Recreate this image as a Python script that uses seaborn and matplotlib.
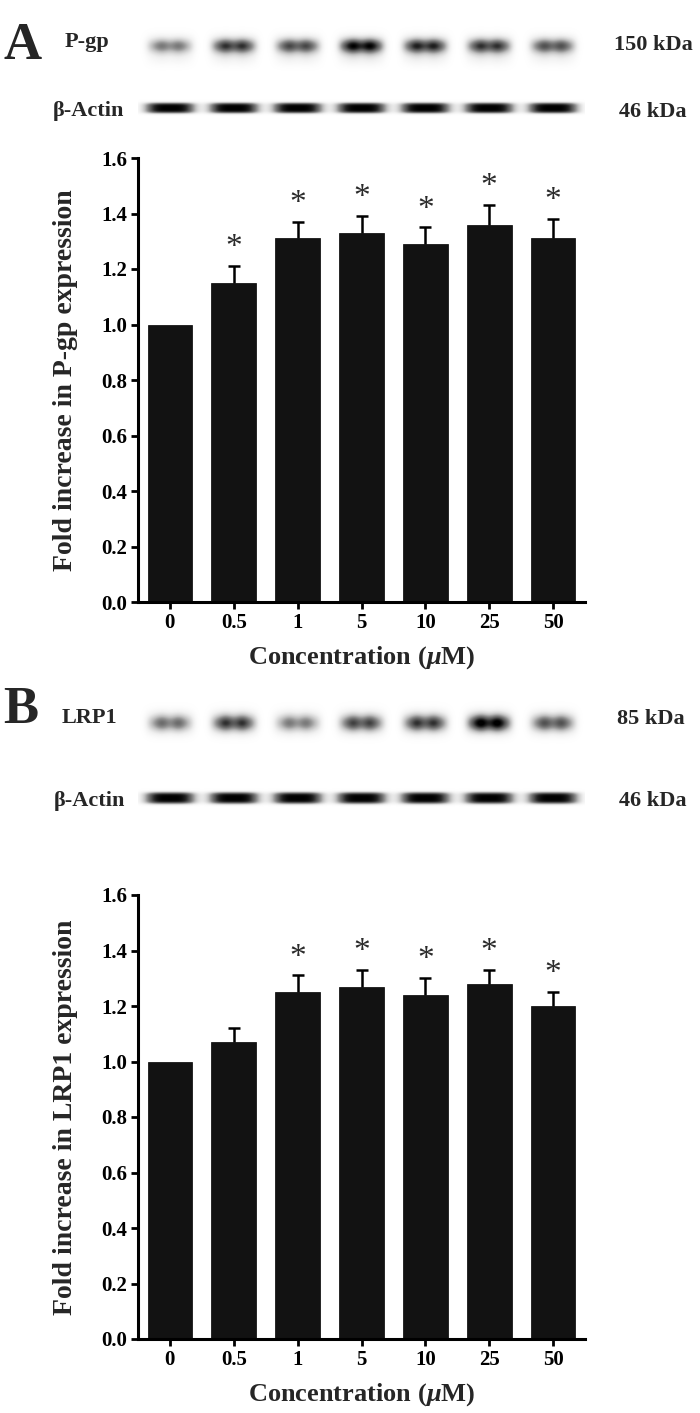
import pandas as pd
import numpy as np
import matplotlib
matplotlib.use("Agg")
import matplotlib.pyplot as plt
import seaborn as sns

# data
conc = ['0', '0.5', '1', '5', '10', '25', '50']

pgp_mean = [1.00, 1.15, 1.31, 1.33, 1.29, 1.36, 1.31]
pgp_err = [0.00, 0.06, 0.06, 0.06, 0.06, 0.07, 0.07]
pgp_star = [False, True, True, True, True, True, True]

lrp1_mean = [1.00, 1.07, 1.25, 1.27, 1.24, 1.28, 1.20]
lrp1_err = [0.00, 0.05, 0.06, 0.06, 0.06, 0.05, 0.05]
lrp1_star = [False, False, True, True, True, True, True]

# relative band darkness per lane (western blot strips)
pgp_band = [0.60, 0.85, 0.78, 1.00, 0.90, 0.85, 0.75]
actin_a_band = [1.0, 1.0, 1.0, 1.0, 1.0, 1.0, 1.0]
lrp1_band = [0.65, 0.85, 0.60, 0.80, 0.85, 1.05, 0.75]
actin_b_band = [1.0, 1.0, 1.0, 1.0, 1.0, 1.0, 1.0]

sns.set_style("ticks")
plt.rcParams['font.family'] = ['Liberation Serif', 'DejaVu Serif']
plt.rcParams['font.weight'] = 'bold'
plt.rcParams['axes.labelweight'] = 'bold'
plt.rcParams['mathtext.fontset'] = 'custom'
plt.rcParams['mathtext.it'] = 'Liberation Serif:italic:bold'
plt.rcParams['mathtext.rm'] = 'Liberation Serif:bold'

W, H = 700, 1413
fig = plt.figure(figsize=(7, 14.13), dpi=100)
BAR = '#121212'


def px_axes(left, top, width, height):
    return fig.add_axes([left / W, 1 - (top + height) / H, width / W, height / H])


def blot(top, height, dark, yc, wx, wy, py=2, px=6, smear=0.0, doublet=0.0):
    ax = px_axes(138, top, 447, height)
    xs = np.linspace(-0.5, 6.5, 900)
    ys = np.arange(height) + 0.5
    X, Y = np.meshgrid(xs, ys)
    img = np.zeros_like(X)
    for k, d in enumerate(dark):
        dx = X - k
        fx = np.exp(-np.abs(dx / wx) ** px)
        lobes = np.exp(-((dx - 0.13) / 0.11) ** 2) + np.exp(-((dx + 0.13) / 0.11) ** 2)
        fx = fx * (1 - doublet + doublet * lobes)
        fy = np.exp(-np.abs((Y - yc) / wy) ** py)
        img += d * fx * fy
        if smear:
            img += smear * d * fx * np.exp(-((Y - yc - 13) / 7) ** 2)
    ax.imshow(np.clip(img, 0, 1), cmap='Greys', vmin=0, vmax=1.0,
              extent=[-0.5, 6.5, height, 0], aspect='auto', interpolation='bilinear')
    ax.set_xlim(-0.5, 6.5)
    ax.axis('off')
    return ax


def bar_panel(top, mean, err, star, ylabel):
    ax = px_axes(138, top, 447, 444)
    df = pd.DataFrame({'conc': conc, 'val': mean})
    sns.barplot(data=df, x='conc', y='val', order=conc, color=BAR,
                width=0.70, errorbar=None, ax=ax, saturation=1,
                edgecolor='black', linewidth=0.5)
    pos = np.arange(len(conc))
    mean_a = np.array(mean)
    err_a = np.array(err)
    keep = err_a > 0
    _, caps, _ = ax.errorbar(pos[keep], mean_a[keep],
                             yerr=[np.zeros(keep.sum()), err_a[keep]], fmt='none',
                             ecolor='black', elinewidth=1.8, capsize=4, capthick=1.8)
    caps[0].set_visible(False)  # no cap at the bar top
    for i, s in enumerate(star):
        if s:
            ax.text(pos[i], mean[i] + err[i] + 0.065, '*', ha='center', va='center',
                    fontsize=24, fontweight='normal', color='#2a2a2a')
    ax.set_xlim(-0.5, 6.5)
    ax.set_ylim(0, 1.6)
    ax.set_yticks(np.arange(0, 1.61, 0.2))
    ax.set_yticklabels([f'{v:.1f}' for v in np.arange(0, 1.61, 0.2)])
    sns.despine(ax=ax)
    for sp in ['left', 'bottom']:
        ax.spines[sp].set_linewidth(2.2)
        ax.spines[sp].set_color('black')
    ax.tick_params(axis='both', labelsize=15, width=2, length=5, color='black',
                   labelcolor='black', pad=3)
    ax.set_xlabel(r'Concentration ($\mu$M)', fontsize=19)
    ax.set_ylabel(ylabel, fontsize=20)
    ax.xaxis.set_label_coords(0.5, -0.095)
    ax.yaxis.set_label_coords(-0.135, 0.5)
    return ax


# panel A
fig.text(3 / W, 1 - 46 / H, 'A', fontsize=38, va='center', ha='left')
fig.text(65 / W, 1 - 47 / H, 'P-gp', fontsize=16, va='baseline')
fig.text(614 / W, 1 - 50 / H, '150 kDa', fontsize=16, va='baseline')
fig.text(53 / W, 1 - 116 / H, 'β-Actin', fontsize=16, va='baseline')
fig.text(619 / W, 1 - 117 / H, '46 kDa', fontsize=16, va='baseline')
blot(25, 50, pgp_band, 21, 0.36, 8, py=2, smear=0.10, doublet=0.25)
blot(95, 28, actin_a_band, 13, 0.40, 5.5, py=4, px=4)
bar_panel(158, pgp_mean, pgp_err, pgp_star, 'Fold increase in P-gp expression')

# panel B
fig.text(3 / W, 1 - 710 / H, 'B', fontsize=38, va='center', ha='left')
fig.text(62 / W, 1 - 723 / H, 'LRP1', fontsize=16, va='baseline')
fig.text(617 / W, 1 - 724 / H, '85 kDa', fontsize=16, va='baseline')
fig.text(54 / W, 1 - 806 / H, 'β-Actin', fontsize=16, va='baseline')
fig.text(619 / W, 1 - 806 / H, '46 kDa', fontsize=16, va='baseline')
blot(700, 48, lrp1_band, 23, 0.36, 9, py=2, doublet=0.3)
blot(784, 30, actin_b_band, 14, 0.40, 6, py=4, px=4)
bar_panel(895, lrp1_mean, lrp1_err, lrp1_star, 'Fold increase in LRP1 expression')

fig.savefig('out.png', dpi=100)
